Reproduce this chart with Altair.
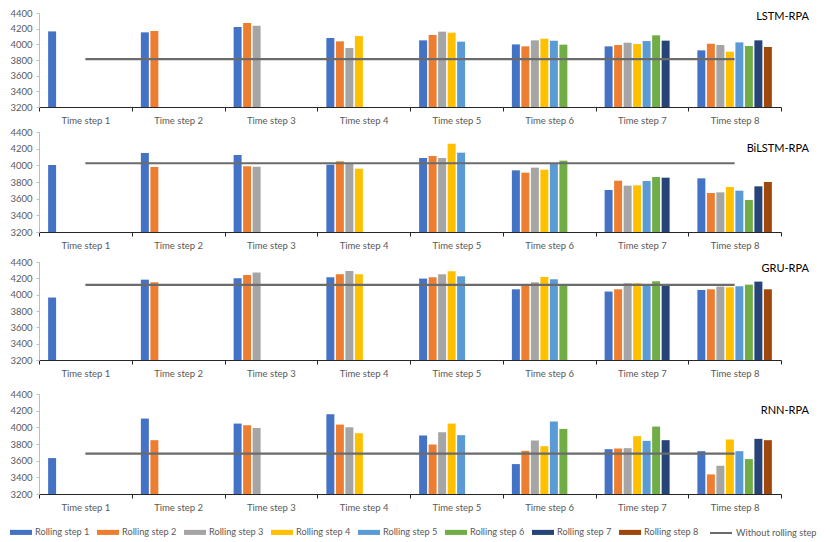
import altair as alt
import pandas as pd

time_steps = [f"Time step {i}" for i in range(1, 9)]
rolling_steps = [f"Rolling step {i}" for i in range(1, 9)]
baseline_label = "Without rolling step"
bar_colors = ["#4472C4", "#ED7D31", "#A5A5A5", "#FFC000", "#5B9BD5", "#70AD47", "#264478", "#9E480E"]
line_color = "#6B6B6B"

models = ["LSTM-RPA", "BiLSTM-RPA", "GRU-RPA", "RNN-RPA"]

lstm_rpa = [
    [4165],
    [4153, 4170],
    [4221, 4272, 4238],
    [4081, 4038, 3953, 4106],
    [4051, 4119, 4162, 4149, 4034],
    [3999, 3974, 4051, 4072, 4047, 3996],
    [3974, 3991, 4021, 4004, 4042, 4115, 4047],
    [3923, 4008, 3991, 3906, 4025, 3979, 4051, 3966],
]
bilstm_rpa = [
    [4004],
    [4148, 3980],
    [4124, 3988, 3984],
    [4008, 4048, 4025, 3960],
    [4088, 4112, 4088, 4260, 4152],
    [3940, 3912, 3972, 3948, 4022, 4056],
    [3704, 3816, 3756, 3760, 3812, 3860, 3852],
    [3844, 3668, 3676, 3740, 3696, 3584, 3748, 3800],
]
gru_rpa = [
    [3965],
    [4184, 4152],
    [4201, 4241, 4270],
    [4213, 4249, 4290, 4249],
    [4197, 4213, 4249, 4286, 4225],
    [4066, 4112, 4152, 4217, 4188, 4118],
    [4038, 4066, 4140, 4140, 4125, 4164, 4111],
    [4058, 4066, 4099, 4091, 4103, 4123, 4160, 4066],
]
rnn_rpa = [
    [3631],
    [4105, 3846],
    [4045, 4025, 3993],
    [4157, 4033, 4001, 3930],
    [3902, 3794, 3941, 4045, 3906],
    [3559, 3718, 3842, 3774, 4069, 3981],
    [3738, 3746, 3750, 3894, 3838, 4009, 3846],
    [3714, 3435, 3539, 3854, 3714, 3619, 3862, 3846],
]
baselines = [3810, 4025, 4120, 3685]
y_ticks = [3200, 3400, 3600, 3800, 4000, 4200, 4400]

series = [lstm_rpa, bilstm_rpa, gru_rpa, rnn_rpa]
heights = [94, 100, 98, 100]
label_y = [4, 17, 7, 17]
extra_gap = [0, 4, 8, 0]

color_scale = alt.Scale(domain=rolling_steps, range=bar_colors)
stroke_scale = alt.Scale(domain=[baseline_label], range=[line_color])

sym_bar = "M-1,-0.23L1,-0.23L1,0.23L-1,0.23Z"

bar_legend = alt.Legend(
    title=None,
    orient="none",
    direction="horizontal",
    legendX=-29,
    legendY=508,
    symbolSize=484,
    symbolType=sym_bar,
    symbolStrokeWidth=0,
    symbolOpacity=1,
    labelOffset=3,
    columnPadding=7,
    labelColor="#595959",
    labelFontSize=9.2,
    labelFont="Lato",
    padding=0,
)
line_legend = alt.Legend(
    title=None,
    orient="none",
    direction="horizontal",
    legendX=670,
    legendY=508,
    symbolSize=484,
    symbolType="stroke",
    symbolStrokeWidth=2,
    labelOffset=3,
    labelColor="#595959",
    labelFontSize=9.2,
    labelFont="Lato",
    padding=0,
)

panels = []
for i, (name, vals, base) in enumerate(zip(models, series, baselines)):
    rows = []
    for t, ts_vals in zip(time_steps, vals):
        for r, v in zip(rolling_steps, ts_vals):
            rows.append({"time": t, "rolling": r, "value": v})
    bar_df = pd.DataFrame(rows)
    line_df = pd.DataFrame({"time": time_steps, "value": [base] * len(time_steps), "series": baseline_label})
    label_df = pd.DataFrame({"label": [name]})

    axis_kw = dict(
        labelAngle=0,
        labelColor="#595959",
        labelFontSize=9.5,
        labelPadding=4,
        tickBand="extent",
        tickSize=4,
        tickColor="#262626",
        domainColor="#262626",
    )
    if extra_gap[i]:
        x_axis = alt.Axis(title=" ", titleFontSize=1, titlePadding=extra_gap[i], **axis_kw)
    else:
        x_axis = alt.Axis(title=None, **axis_kw)
    x_enc = alt.X("time:N", sort=time_steps, scale=alt.Scale(domain=time_steps, paddingInner=0, paddingOuter=0), axis=x_axis)
    y_enc = alt.Y(
        "value:Q",
        scale=alt.Scale(domain=[3200, 4400], zero=False, nice=False),
        axis=alt.Axis(
            title=None,
            values=y_ticks,
            format="d",
            grid=False,
            labelColor="#595959",
            labelFontSize=9.5,
            labelPadding=4,
            tickSize=3,
            tickColor="#BFBFBF",
            domainColor="#BFBFBF",
        ),
    )

    bars = alt.Chart(bar_df).mark_bar().encode(
        x=x_enc,
        xOffset=alt.XOffset("rolling:N", sort=rolling_steps,
                            scale=alt.Scale(domain=rolling_steps, paddingInner=0.16, paddingOuter=0.96)),
        y=y_enc,
        y2=alt.datum(3200),
        color=alt.Color("rolling:N", scale=color_scale, legend=bar_legend),
    )
    line = alt.Chart(line_df).mark_line(strokeWidth=2.2).encode(
        x=x_enc,
        y=y_enc,
        stroke=alt.Stroke("series:N", scale=stroke_scale, legend=line_legend),
    )
    text = alt.Chart(label_df).mark_text(align="right", baseline="middle", fontSize=11, color="#000000", font="Lato").encode(
        text="label:N",
        x=alt.value(770),
        y=alt.value(label_y[i]),
    )
    panels.append(alt.layer(bars, line, text).properties(width=742, height=heights[i]))

chart = alt.vconcat(*panels, spacing=2).properties(
    padding={"left": 1, "top": 0, "right": 0, "bottom": 0}
).configure(font="Lato").configure_view(stroke=None)

chart.save("out.html", embed_options={"renderer": "svg", "actions": False})
